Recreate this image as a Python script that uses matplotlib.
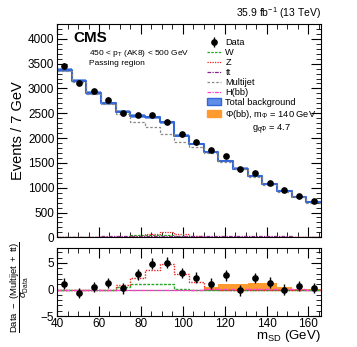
import numpy as np
import matplotlib.pyplot as plt
from matplotlib.patches import Patch
from matplotlib.lines import Line2D
from matplotlib.ticker import MultipleLocator

# binning: 7 GeV bins in m_SD
edges = np.arange(40, 167, 7)
centers = edges[:-1] + 3.5

# main panel
data = [3445, 3120, 2940, 2770, 2500, 2465, 2465, 2330, 2075,
        1913, 1757, 1641, 1372, 1297, 1102, 946, 839, 723]
total_bkg = [3380, 3160, 2910, 2700, 2530, 2445, 2420, 2320, 2050,
             1878, 1722, 1540, 1386, 1230, 1068, 926, 819, 703]
total_unc = [40, 38, 36, 34, 32, 31, 30, 30, 28,
             27, 26, 25, 24, 23, 22, 20, 19, 18]
multijet = [3360, 3140, 2890, 2680, 2490, 2330, 2217, 2075, 1925,
            1824, 1700, 1525, 1375, 1220, 1060, 920, 813, 698]
w_bkg = [2, 3, 4, 6, 15, 40, 45, 40, 25, 10, 5, 4, 3, 2, 2, 2, 1, 1]
z_bkg = [1, 2, 3, 5, 12, 35, 75, 100, 70, 30, 10, 5, 3, 2, 2, 1, 1, 1]
tt_bkg = [15, 16, 17, 18, 20, 22, 24, 26, 28, 30, 28, 26, 24, 22, 20, 18, 16, 14]
hbb_bkg = [0, 0, 0, 0, 1, 1, 2, 2, 3, 4, 5, 5, 5, 4, 3, 2, 1, 1]

# ratio panel: (Data - (Multijet + tt)) / sigma_Data
pull = [1.13, -0.64, 0.5, 1.24, 0.2, 2.87, 4.9, 5.07, 3.1,
        2.25, 1.13, 2.7, -0.13, 2.2, 1.3, 0.0, 0.7, 0.3]
pull_w = [0, 0, 0, 0, 0.4, 1.1, 1.1, 1.0, 0.1, 0, 0, 0, 0, 0, 0, 0, 0, 0]
pull_z = [0, 0, 0, 0, 0.8, 2.2, 3.76, 4.9, 3.0, 1.43, 0.05, 0, 0, 0, 0, 0, 0, 0]
pull_hbb = [0, 0, 0, 0, 0, 0, 0, 0, 0, 0, 0.05, 0.1, 0.12, 0.1, 0.08, 0.05, 0.02, 0]
pull_phi = [0, 0, 0, 0, 0, 0, 0, 0, 0, 0, 0.5, 1.0, 1.0, 1.3, 1.3, 0.5, 0.15, 0.05]

plt.rcParams['font.family'] = ['Liberation Sans', 'DejaVu Sans']
plt.rcParams['mathtext.fontset'] = 'custom'
plt.rcParams['mathtext.rm'] = 'Liberation Sans'
plt.rcParams['mathtext.it'] = 'Liberation Sans:italic'

c_blue = '#3366d6'
c_band = '#5f8de8'
c_orange = '#ff9a2e'


def stepvals(v):
    return np.append(v, v[-1])


def style_axes(ax):
    ax.tick_params(which='both', direction='in', top=True, right=True, labelsize=8.5, pad=2)
    ax.tick_params(which='major', length=7)
    ax.tick_params(which='minor', length=3.5)
    ax.xaxis.set_major_locator(MultipleLocator(20))
    ax.xaxis.set_minor_locator(MultipleLocator(5))


fig = plt.figure(figsize=(3.57, 3.47), dpi=100)
ax = fig.add_axes([0.160, 0.316, 0.739, 0.615])
rax = fig.add_axes([0.160, 0.089, 0.739, 0.196])

# total background band + line
tb = np.array(total_bkg)
tu = np.array(total_unc)
ax.fill_between(edges, stepvals(tb - tu), stepvals(tb + tu), step='post',
                color=c_band, alpha=0.8, lw=0)
ax.step(edges, stepvals(tb), where='post', color=c_blue, lw=1.5)
ax.step(edges, stepvals(multijet), where='post', color='#888888', lw=0.9, ls=(0, (2, 1.5)))
ax.step(edges, stepvals(w_bkg), where='post', color='#22aa22', lw=0.9, ls=(0, (2, 1)))
ax.step(edges, stepvals(z_bkg), where='post', color='#ee2222', lw=0.9, ls=(0, (1, 1)))
ax.step(edges, stepvals(tt_bkg), where='post', color='#882288', lw=0.9, ls=(0, (3, 1, 1, 1)))
ax.step(edges, stepvals(hbb_bkg), where='post', color='#ff44cc', lw=0.9, ls=(0, (3, 1, 1, 1)))
data_h = ax.errorbar(centers, data, yerr=np.sqrt(data), fmt='o', color='black',
                     ms=3.8, lw=1, capsize=0)

ax.set_xlim(40, 166)
ax.set_ylim(0, 4300)
style_axes(ax)
ax.yaxis.set_major_locator(MultipleLocator(500))
ax.yaxis.set_minor_locator(MultipleLocator(100))
ax.tick_params(labelbottom=False)
ax.set_ylabel('Events / 7 GeV', fontsize=10.5, labelpad=2)

ax.text(0.06, 0.965, 'CMS', transform=ax.transAxes, fontsize=11, fontweight='bold', va='top')
ax.text(0.121, 0.885, r'450 < p$_\mathrm{T}$ (AK8) < 500 GeV', transform=ax.transAxes,
        fontsize=6, va='top')
ax.text(0.121, 0.83, 'Passing region', transform=ax.transAxes, fontsize=6, va='top')
ax.text(1.0, 1.015, r'35.9 fb$^{-1}$ (13 TeV)', transform=ax.transAxes, fontsize=7.5,
        ha='right', va='bottom')

handles = [
    data_h,
    Line2D([], [], color='#22aa22', lw=0.9, ls=(0, (2, 1))),
    Line2D([], [], color='#ee2222', lw=0.9, ls=(0, (1, 1))),
    Line2D([], [], color='#882288', lw=0.9, ls=(0, (3, 1, 1, 1))),
    Line2D([], [], color='#888888', lw=0.9, ls=(0, (2, 1.5))),
    Line2D([], [], color='#ff44cc', lw=0.9, ls=(0, (3, 1, 1, 1))),
    Patch(facecolor=c_band, edgecolor=c_blue),
    Patch(facecolor=c_orange, edgecolor=c_orange),
]
labels = ['Data', 'W', 'Z', 'tt', 'Multijet', 'H(bb)', 'Total background',
          r'Φ(bb), m$_\Phi$ = 140 GeV']
leg = ax.legend(handles, labels, loc='upper left', bbox_to_anchor=(0.555, 0.95),
                frameon=False, fontsize=6.7, handlelength=1.5, handletextpad=0.45,
                labelspacing=0.1, borderaxespad=0)
ax.text(0.739, 0.505, r'g$_{\mathrm{q}\Phi}$ = 4.7', transform=ax.transAxes,
        fontsize=6.7, va='center')

# ratio panel
rax.axhline(0, color='#777777', lw=0.8)
rax.fill_between(edges, 0, stepvals(pull_phi), step='post', color=c_orange, lw=0)
rax.step(edges, stepvals(pull_w), where='post', color='#22aa22', lw=1, ls=(0, (2, 1)))
rax.step(edges, stepvals(pull_z), where='post', color='#ee2222', lw=1, ls=(0, (1, 1)))
rax.step(edges, stepvals(pull_hbb), where='post', color='#ff44cc', lw=1, ls=(0, (3, 1, 1, 1)))
rax.errorbar(centers, pull, yerr=1, fmt='o', color='black', ms=3.8, lw=1, capsize=0)
rax.set_xlim(40, 166)
rax.set_ylim(-5, 7.8)
style_axes(rax)
rax.yaxis.set_major_locator(MultipleLocator(5))
rax.yaxis.set_minor_locator(MultipleLocator(1))
rax.tick_params(axis='x', pad=1)
rax.set_ylabel(r'$\dfrac{\mathrm{Data\ -\ (Multijet\ +\ tt)}}{\sigma_{\mathrm{Data}}}$',
               fontsize=6.8, labelpad=1)
rax.yaxis.set_label_coords(-0.10, 0.43)
rax.set_xlabel(r'm$_\mathrm{SD}$ (GeV)', fontsize=9.5, loc='right', labelpad=-1)

fig.savefig('out.png', dpi=100)
